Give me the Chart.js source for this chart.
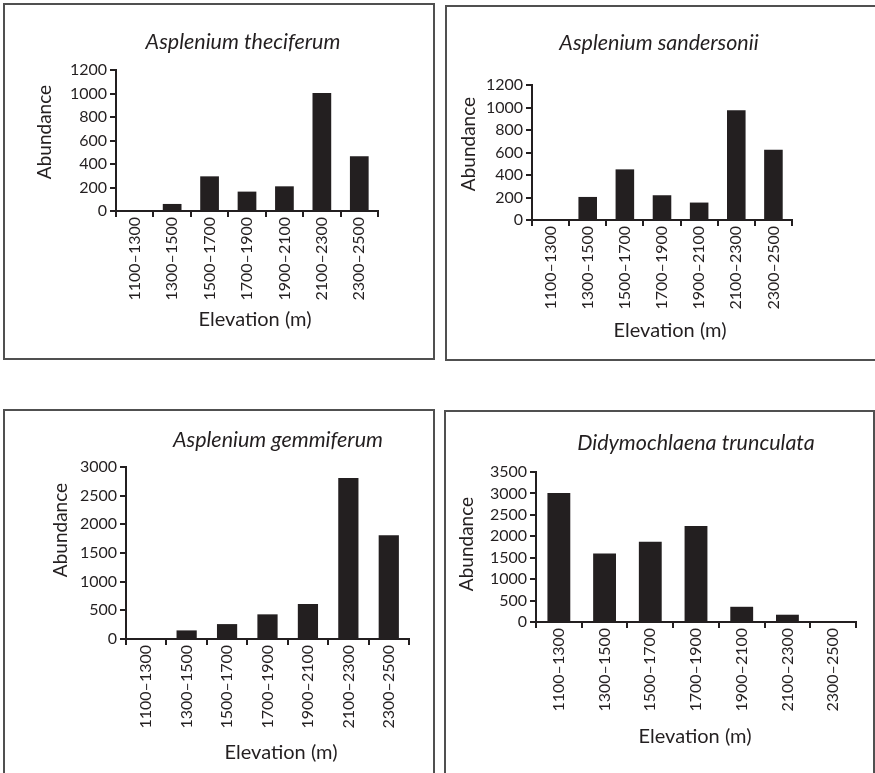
<!DOCTYPE html>
<html>
<head>
<meta charset="utf-8">
<script src="https://cdn.jsdelivr.net/npm/chart.js@4/dist/chart.umd.min.js"></script>
<style>
  html, body { margin: 0; padding: 0; background: #fff; }
  body { width: 875px; height: 773px; position: relative; overflow: hidden; }
  .frame { position: absolute; box-sizing: border-box; border: 2px solid #505050; }
  canvas { position: absolute; }
</style>
</head>
<body>
<div class="frame" style="left:3px;top:3px;width:432px;height:357px;"></div>
<div class="frame" style="left:445px;top:5px;width:440px;height:356px;"></div>
<div class="frame" style="left:3px;top:409px;width:432px;height:400px;"></div>
<div class="frame" style="left:444px;top:410px;width:431px;height:400px;"></div>
<canvas id="c1" width="440" height="385" style="left:0px;top:0px;"></canvas>
<canvas id="c2" width="435" height="385" style="left:440px;top:0px;"></canvas>
<canvas id="c3" width="440" height="388" style="left:0px;top:385px;"></canvas>
<canvas id="c4" width="435" height="388" style="left:440px;top:385px;"></canvas>
<script>
// ---- data ----
const elevationBands = ['1100–1300', '1300–1500', '1500–1700', '1700–1900', '1900–2100', '2100–2300', '2300–2500'];
const theciferum  = [0, 60, 295, 165, 210, 1005, 467];
const sandersonii = [0, 205, 450, 220, 155, 975, 625];
const gemmiferum  = [0, 150, 260, 430, 610, 2810, 1810];
const trunculata  = [3010, 1600, 1870, 2240, 355, 170, 0];
const speciesNames = ['Asplenium theciferum', 'Asplenium sandersonii', 'Asplenium gemmiferum', 'Didymochlaena trunculata'];
const yMax  = [1200, 1200, 3000, 3500];
const yStep = [200, 200, 500, 500];
const yTitle = 'Abundance';
const xTitle = 'Elevation (m)';

// ---- styling / layout ----
const INK = '#231f20';
Chart.defaults.font.family = 'Lato, "Open Sans", sans-serif';
Chart.defaults.color = INK;

const TITLE_FONT = 'italic 21.5px Lato, sans-serif';
const XTITLE_FONT = '20px Lato, sans-serif';
const YTITLE_FONT = '19px Lato, sans-serif';
const TICK_SIZE = 16;
const X_SCALE_H = 90;
const Y_SCALE_W = 60;

const panelText = {
  id: 'panelText',
  afterDraw(chart, args, o) {
    const ctx = chart.ctx;
    ctx.save();
    ctx.fillStyle = INK;
    ctx.textAlign = 'center';
    ctx.textBaseline = 'middle';
    ctx.font = TITLE_FONT;
    ctx.fillText(o.title, o.titleX, o.titleY);
    ctx.font = XTITLE_FONT;
    ctx.fillText(o.xTitle, o.xTitleX, o.xTitleY);
    ctx.translate(o.yTitleX, o.yTitleY);
    ctx.rotate(-Math.PI / 2);
    ctx.font = YTITLE_FONT;
    ctx.fillText(o.yTitle, 0, 0);
    ctx.restore();
  }
};

// page-coordinate layout of each panel
const layouts = [
  { id: 'c1', cx: 0,   cy: 0,   w: 440, h: 385, plotL: 116, plotR: 378, plotT: 70,  plotB: 211, yTitleX: 45,  yTitleY: 132, titleX: 243, titleY: 42,  xTitleX: 255, xTitleY: 320 },
  { id: 'c2', cx: 440, cy: 0,   w: 435, h: 385, plotL: 532, plotR: 792, plotT: 85,  plotB: 220, yTitleX: 469, yTitleY: 144, titleX: 659, titleY: 43,  xTitleX: 670, xTitleY: 331 },
  { id: 'c3', cx: 0,   cy: 385, w: 440, h: 388, plotL: 126, plotR: 409, plotT: 467, plotB: 639, yTitleX: 61,  yTitleY: 530, titleX: 278, titleY: 440, xTitleX: 281, xTitleY: 753 },
  { id: 'c4', cx: 440, cy: 385, w: 435, h: 388, plotL: 536, plotR: 856, plotT: 472, plotB: 622, yTitleX: 467, yTitleY: 544, titleX: 696, titleY: 443, xTitleX: 695, xTitleY: 737 }
];
const seriesList = [theciferum, sandersonii, gemmiferum, trunculata];

layouts.forEach((L, i) => {
  const padL = L.plotL - Y_SCALE_W - L.cx;
  const padR = L.cx + L.w - L.plotR;
  const padT = L.plotT - L.cy;
  const padB = L.cy + L.h - L.plotB - X_SCALE_H;

  new Chart(document.getElementById(L.id), {
    type: 'bar',
    data: {
      labels: elevationBands,
      datasets: [{
        data: seriesList[i],
        backgroundColor: INK,
        borderWidth: 0,
        barPercentage: 0.5,
        categoryPercentage: 1.0
      }]
    },
    plugins: [panelText],
    options: {
      responsive: false,
      animation: false,
      layout: { padding: { left: padL, right: padR, top: padT, bottom: padB } },
      plugins: {
        legend: { display: false },
        tooltip: { enabled: false },
        title: { display: false },
        panelText: {
          title: speciesNames[i],
          titleX: L.titleX - L.cx, titleY: L.titleY - L.cy,
          xTitle: xTitle,
          xTitleX: L.xTitleX - L.cx, xTitleY: L.xTitleY - L.cy,
          yTitle: yTitle,
          yTitleX: L.yTitleX - L.cx, yTitleY: L.yTitleY - L.cy
        }
      },
      scales: {
        x: {
          afterFit(scale) { scale.height = X_SCALE_H; },
          grid: { display: true, drawOnChartArea: false, drawTicks: true, tickLength: 6, color: INK, lineWidth: 2, offset: true },
          border: { display: true, color: INK, width: 2 },
          ticks: { minRotation: 90, maxRotation: 90, autoSkip: false, padding: 0, color: INK, font: { size: TICK_SIZE } }
        },
        y: {
          min: 0,
          max: yMax[i],
          afterFit(scale) { scale.width = Y_SCALE_W; },
          grid: { display: true, drawOnChartArea: false, drawTicks: true, tickLength: 6, color: INK, lineWidth: 2 },
          border: { display: true, color: INK, width: 2 },
          ticks: { stepSize: yStep[i], autoSkip: false, padding: 3, color: INK, font: { size: TICK_SIZE }, format: { useGrouping: false } }
        }
      }
    }
  });
});
</script>
</body>
</html>
